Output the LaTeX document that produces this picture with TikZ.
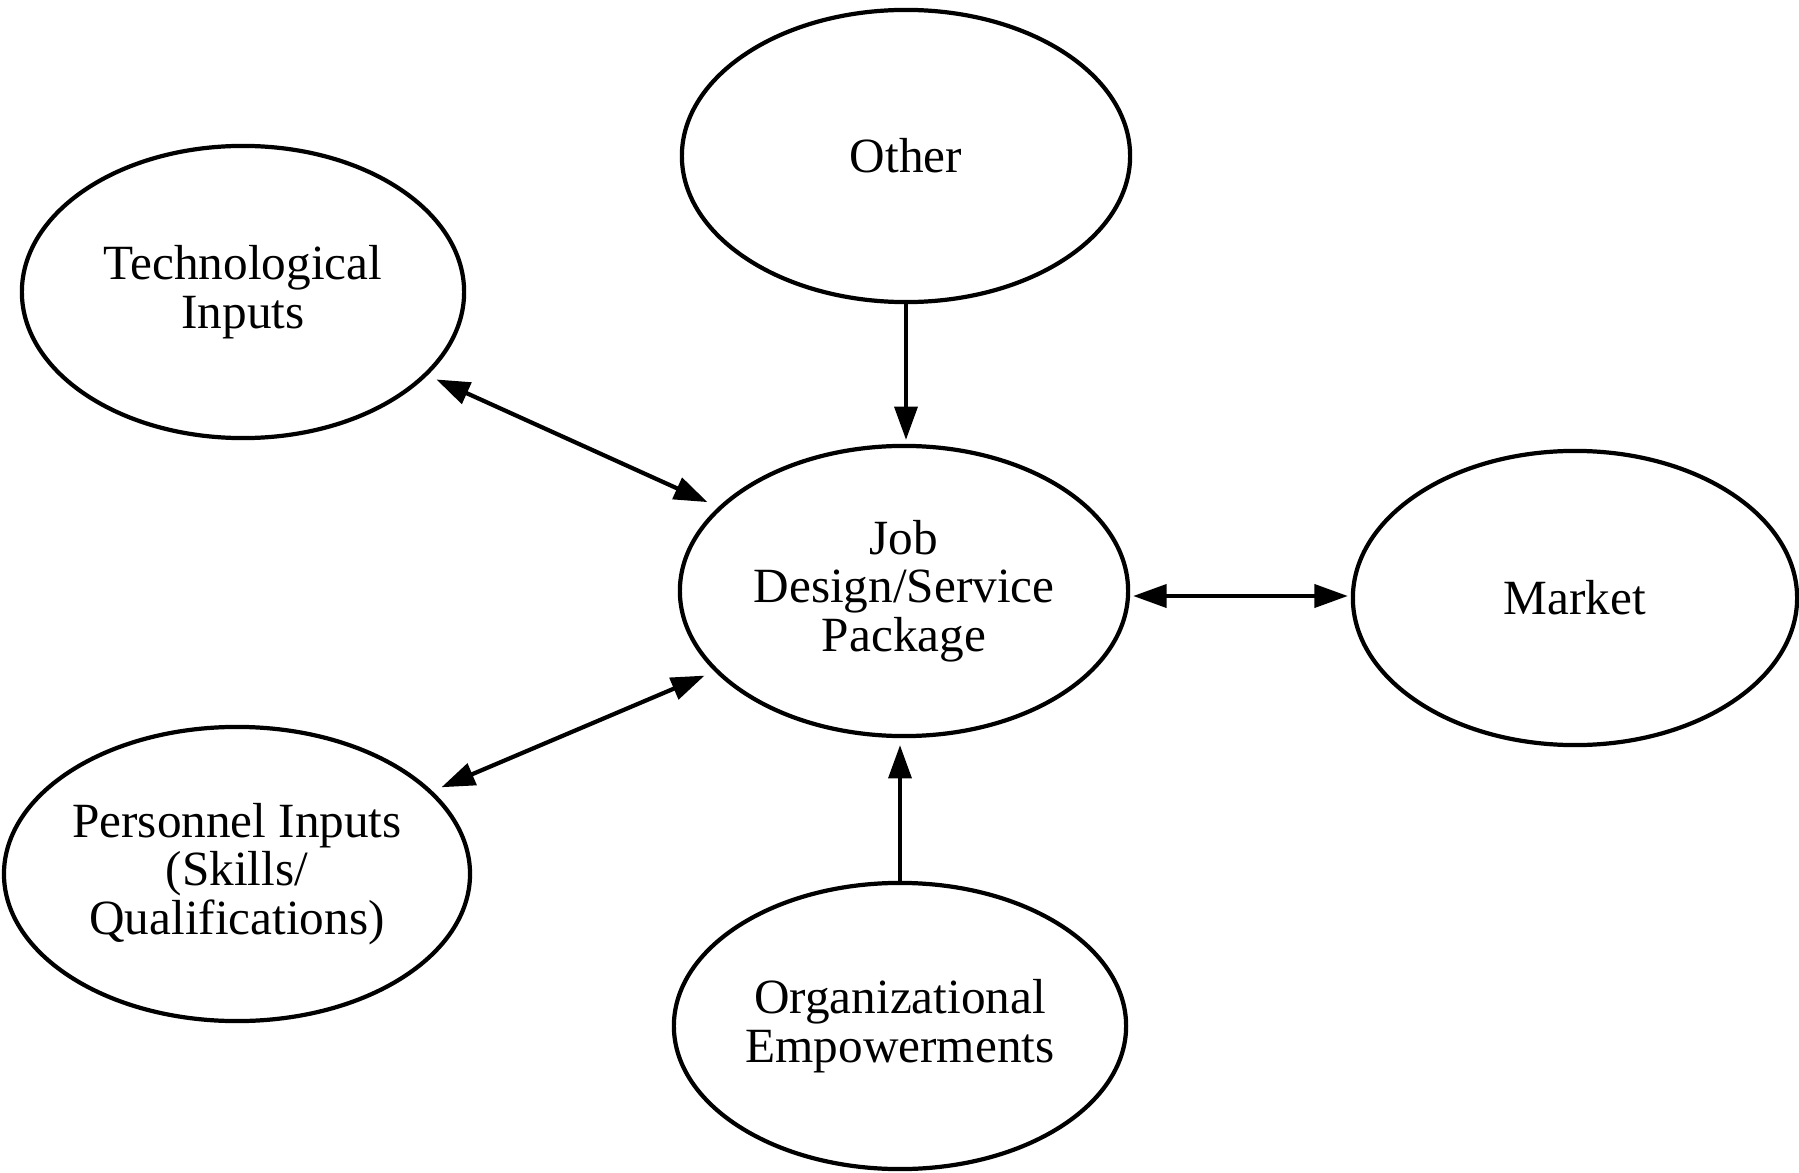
\documentclass[tikz,border=0pt]{standalone}
\usepackage{fontspec}
\setmainfont{Liberation Serif}
\usetikzlibrary{shapes.geometric,arrows.meta}
\begin{document}
\begin{tikzpicture}[x=0.01cm,y=-0.01cm,
  blob/.style={ellipse,draw,line width=1.2pt,inner sep=0pt,outer sep=0pt,align=center,
    font=\fontsize{14}{13.8}\selectfont},
  link/.style={line width=1.2pt,{Triangle[length=9.5pt,width=6.5pt]}-{Triangle[length=9.5pt,width=6.5pt]}},
  one/.style={line width=1.2pt,-{Triangle[length=9.5pt,width=6.5pt]}}]
\useasboundingbox (0,0) rectangle (1799,1173);
\node[blob,minimum width=4.48cm,minimum height=2.92cm] (other) at (906,156) {Other};
\node[blob,minimum width=4.42cm,minimum height=2.92cm] (tech) at (243,292) {Technological\\Inputs};
\node[blob,minimum width=4.48cm,minimum height=2.90cm] (job) at (904,591) {Job\\Design/Service\\Package};
\node[blob,minimum width=4.44cm,minimum height=2.94cm] (market) at (1575,598) {Market};
\node[blob,minimum width=4.44cm,minimum height=2.94cm] (pers) at (237,874) {Personnel Inputs\\(Skills/\\Qualifications)};
\node[blob,minimum width=4.52cm,minimum height=2.86cm] (org) at (900,1026) {Organizational\\Empowerments};
\draw[link,shorten <=0.12cm,shorten >=0.14cm] (tech) -- (job);
\draw[link,shorten <=0.12cm,shorten >=0.13cm] (pers) -- (job);
\draw[link,shorten <=0.05cm,shorten >=0.05cm] ([yshift=-0.05cm]job.east) -- ([yshift=-0.05cm]job.east -| market.west);
\draw[one,shorten >=0.06cm] (other.south) -- (other.south |- job.north);
\draw[one,shorten >=0.09cm] (org.north) -- (org.north |- job.south);
\end{tikzpicture}
\end{document}
